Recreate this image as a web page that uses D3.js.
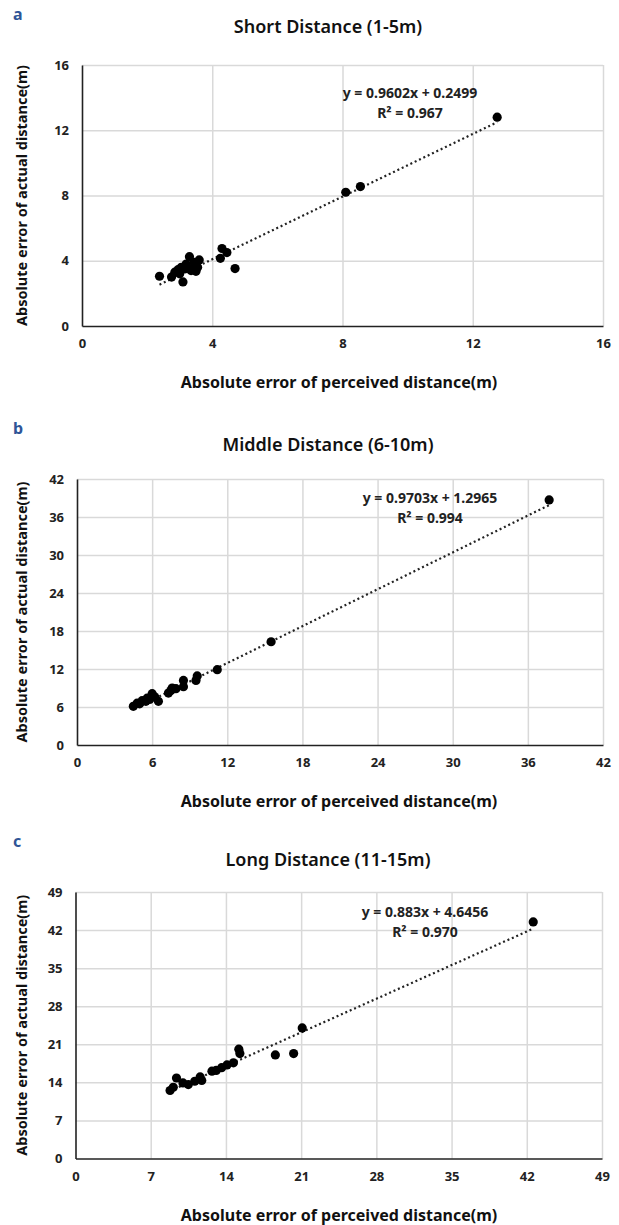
<!DOCTYPE html>
<html>
<head>
<meta charset="utf-8">
<script src="https://cdn.jsdelivr.net/npm/d3@7"></script>
<style>
  body { margin: 0; background: #fff; }
  svg { display: block; font-family: "Noto Sans", "Open Sans", sans-serif; }
</style>
</head>
<body>
<svg id="chart"></svg>
<script>
// Panel titles and letters
const panelLetters = ['a', 'b', 'c'];
const panelTitles = ['Short Distance (1-5m)', 'Middle Distance (6-10m)', 'Long Distance (11-15m)'];

// Axis ticks
const shortTicks = [0, 4, 8, 12, 16];
const middleTicks = [0, 6, 12, 18, 24, 30, 36, 42];
const longTicks = [0, 7, 14, 21, 28, 35, 42, 49];

// Regression results
const slopes = [0.9602, 0.9703, 0.883];
const intercepts = [0.2499, 1.2965, 4.6456];
const eqLabels = ['y = 0.9602x + 0.2499', 'y = 0.9703x + 1.2965', 'y = 0.883x + 4.6456'];
const r2Labels = ['R\u00b2 = 0.967', 'R\u00b2 = 0.994', 'R\u00b2 = 0.970'];

// Short distance (1-5m)
const shortX = [2.38, 2.75, 2.85, 2.95, 3.0, 3.05, 3.1, 3.15, 3.2, 3.3, 3.35, 3.4, 3.45, 3.5, 3.55, 3.6, 4.25, 4.3, 4.45, 4.7, 8.1, 8.55, 12.75];
const shortY = [3.05, 3.0, 3.3, 3.45, 3.2, 3.6, 2.7, 3.5, 3.8, 4.25, 3.4, 3.55, 3.9, 3.35, 3.6, 4.05, 4.15, 4.75, 4.5, 3.52, 8.2, 8.55, 12.8];

// Middle distance (6-10m)
const middleX = [4.5, 4.8, 5.0, 5.2, 5.5, 5.6, 5.8, 6.0, 6.2, 6.5, 7.3, 7.5, 7.6, 7.9, 8.5, 8.5, 9.5, 9.6, 11.2, 15.5, 37.7];
const middleY = [6.1, 6.6, 6.5, 7.0, 6.9, 7.4, 7.2, 8.1, 7.6, 6.9, 8.2, 8.6, 9.0, 8.9, 9.2, 10.2, 10.2, 10.9, 11.9, 16.3, 38.7];

// Long distance (11-15m)
const longX = [8.8, 9.1, 9.4, 10.0, 10.5, 11.1, 11.6, 11.75, 12.7, 13.1, 13.6, 14.1, 14.7, 15.2, 15.3, 18.6, 20.3, 21.1, 42.6];
const longY = [12.5, 13.1, 14.8, 13.9, 13.6, 14.2, 15.0, 14.35, 16.05, 16.2, 16.7, 17.2, 17.6, 20.1, 19.3, 19.05, 19.3, 24.0, 43.5];

const width = 619, height = 1225;
const svg = d3.select('#chart').attr('width', width).attr('height', height);

const panels = [
  { xs: shortX, ys: shortY, ticks: shortTicks, left: 82, right: 603, top: 65, bottom: 326, eqX: 410, eqDy: 28, titleDy: 38 },
  { xs: middleX, ys: middleY, ticks: middleTicks, left: 77, right: 603, top: 479, bottom: 745, eqX: 430, eqDy: 19, titleDy: 34 },
  { xs: longX, ys: longY, ticks: longTicks, left: 75.5, right: 602, top: 892, bottom: 1158.5, eqX: 425, eqDy: 20, titleDy: 32 }
];

panels.forEach((p, i) => {
  const max = d3.max(p.ticks);
  const x = d3.scaleLinear().domain([0, max]).range([p.left, p.right]);
  const y = d3.scaleLinear().domain([0, max]).range([p.bottom, p.top]);
  const g = svg.append('g');

  // panel letter
  g.append('text')
    .attr('x', 13).attr('y', p.top - 45)
    .attr('fill', '#2f5597')
    .attr('font-size', 16).attr('font-weight', 'bold')
    .text(panelLetters[i]);

  // title
  g.append('text')
    .attr('x', 328).attr('y', p.top - p.titleDy + 6)
    .attr('text-anchor', 'middle')
    .attr('font-size', 18).attr('font-weight', 600)
    .attr('fill', '#111')
    .text(panelTitles[i]);

  // gridlines
  g.append('g')
    .attr('transform', `translate(0,${p.bottom})`)
    .call(d3.axisBottom(x).tickValues(p.ticks.slice(1)).tickSize(-(p.bottom - p.top)).tickFormat(''))
    .call(a => a.select('.domain').remove())
    .call(a => a.selectAll('line').attr('stroke', '#d9d9d9').attr('stroke-width', 1.5));
  g.append('g')
    .attr('transform', `translate(${p.left},0)`)
    .call(d3.axisLeft(y).tickValues(p.ticks.slice(1)).tickSize(-(p.right - p.left)).tickFormat(''))
    .call(a => a.select('.domain').remove())
    .call(a => a.selectAll('line').attr('stroke', '#d9d9d9').attr('stroke-width', 1.5));

  // axis lines with tick labels
  const xAxis = g.append('g')
    .attr('transform', `translate(0,${p.bottom})`)
    .call(d3.axisBottom(x).tickValues(p.ticks).tickSize(0).tickPadding(13));
  const yAxis = g.append('g')
    .attr('transform', `translate(${p.left},0)`)
    .call(d3.axisLeft(y).tickValues(p.ticks).tickSize(0).tickPadding(13));
  [xAxis, yAxis].forEach(a => {
    a.select('.domain').attr('stroke', '#222').attr('stroke-width', 1.6);
    a.selectAll('text')
      .attr('font-family', '"Noto Sans", sans-serif')
      .attr('font-size', 13).attr('font-weight', 'bold').attr('fill', '#222');
  });

  // trendline (dotted)
  const x0 = d3.min(p.xs), x1 = d3.max(p.xs);
  g.append('line')
    .attr('x1', x(x0)).attr('y1', y(slopes[i] * x0 + intercepts[i]))
    .attr('x2', x(x1)).attr('y2', y(slopes[i] * x1 + intercepts[i]))
    .attr('stroke', '#222').attr('stroke-width', 2.2)
    .attr('stroke-dasharray', '2,2.8');

  // points
  g.append('g')
    .selectAll('circle')
    .data(d3.range(p.xs.length))
    .join('circle')
    .attr('cx', j => x(p.xs[j]))
    .attr('cy', j => y(p.ys[j]))
    .attr('r', 4.6)
    .attr('fill', '#000');

  // equation
  g.append('text')
    .attr('x', p.eqX).attr('y', p.top + p.eqDy + 5)
    .attr('text-anchor', 'middle')
    .attr('font-size', 14).attr('font-weight', 'bold').attr('fill', '#222')
    .text(eqLabels[i]);
  g.append('text')
    .attr('x', p.eqX).attr('y', p.top + p.eqDy + 25)
    .attr('text-anchor', 'middle')
    .attr('font-size', 14).attr('font-weight', 'bold').attr('fill', '#222')
    .text(r2Labels[i]);

  // axis titles
  g.append('text')
    .attr('x', 339).attr('y', p.bottom + 62)
    .attr('text-anchor', 'middle')
    .attr('font-size', 16).attr('font-weight', 'bold').attr('fill', '#111')
    .text('Absolute error of perceived distance(m)');
  g.append('text')
    .attr('transform', `translate(27,${(p.top + p.bottom) / 2}) rotate(-90)`)
    .attr('text-anchor', 'middle')
    .attr('font-size', 14.5).attr('font-weight', 'bold').attr('fill', '#111')
    .text('Absolute error of actual distance(m)');
});
</script>
</body>
</html>
